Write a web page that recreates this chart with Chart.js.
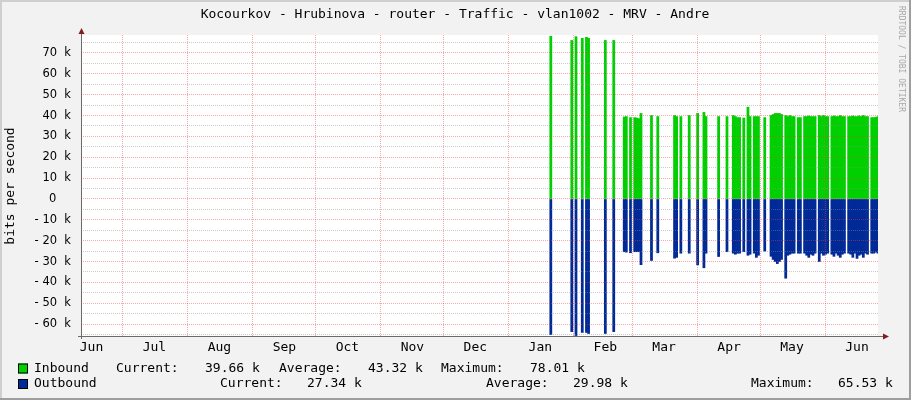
<!DOCTYPE html>
<html>
<head>
<meta charset="utf-8">
<script src="https://cdn.jsdelivr.net/npm/chart.js@4.4.1/dist/chart.umd.min.js"></script>
<style>
html,body{margin:0;padding:0;background:#f2f2f2}
canvas{display:block}
</style>
</head>
<body>
<canvas id="c" width="911" height="400"></canvas>
<script>
// data (days counted from the left edge of the graph, one value per day, in k bits/s)
const title = 'Kocourkov - Hrubinova - router - Traffic - vlan1002 - MRV - Andre'
const yTitle = 'bits per second'
const startDay = 223
const inbound = [
  null, 78, null, null, null, null, null, null, null, null,
  null, 76, null, 77.8, null, null, 77, null, 77.5, 77,
  null, null, null, null, null, null, null, 76, null, null,
  null, 76, null, null, null, null, 39.3, 39.5, null, 39,
  null, 39, 38.8, 38.5, 41, null, null, null, null, 40,
  null, null, 39.5, null, null, null, null, null, null, null,
  40, 39.5, null, 39.5, null, null, null, 40, null, null,
  null, 41, null, null, 41.5, 39.5, null, null, null, null,
  null, 39.5, null, null, null, 39.5, null, null, 40, 39.5,
  39, 39, null, 38.8, null, 44, 39.5, null, 39.5, 39.5,
  39.5, null, null, 39, null, null, 40, 40.5, 41, 41,
  41, 40.5, null, 40, 39.5, 40, 39.5, 39.5, null, 39,
  39, null, 39.5, 39.5, 39.8, 39.5, 39.5, 39.5, null, 40,
  39.5, 40, 39.5, 39.5, null, 39.5, 39.8, 39.5, 39.5, 40,
  39.5, 39.5, null, 39.5, 39.5, 39.8, 39.5, 39.5, 39.8, 39.5,
  40, 39.5, 39.5, null, 39, 39, 39.2, 39.5
]
const outbound = [
  null, -65, null, null, null, null, null, null, null, null,
  null, -63.6, null, -65.5, null, null, -64, null, -64, -64.5,
  null, null, null, null, null, null, null, -64.5, null, null,
  null, -63.6, null, null, null, null, -25.3, -25.5, null, -25.8,
  null, -25.3, -25.3, -25.3, -31.5, null, null, null, null, -29.5,
  null, null, -25.8, null, null, null, null, null, null, null,
  -28.4, -28, null, -26, null, null, null, -26, null, null,
  null, -31.6, null, null, -33, -26, null, null, null, null,
  null, -27.6, null, null, null, -25.3, null, null, -26, -26.5,
  -26, -26, null, -25.3, null, -27, -26.5, null, -26, -28,
  -27, null, null, -25, null, null, -27.5, -29, -30, -31,
  -30, -29, null, -38, -27, -26.5, -26, -26, null, -26,
  -26, null, -26, -27, -28, -26.5, -27, -26, null, -30,
  -26, -27, -26.5, -26, null, -26.5, -27.5, -26, -27, -28,
  -26.5, -26, null, -26, -26.5, -28, -26, -28.5, -27, -26.5,
  -28, -26, -26.5, null, -26, -26, -25.5, -26
]
const monthLabels = ['Jun','Jul','Aug','Sep','Oct','Nov','Dec','Jan','Feb','Mar','Apr','May','Jun']
const monthLabelDays = [5, 35, 66, 97, 127, 158, 188, 219, 250, 278, 309, 339, 370]
const monthStartDays = [20, 51, 82, 112, 143, 173, 204, 235, 263, 294, 324, 355]
const yTickValues = [-65,-60,-55,-50,-45,-40,-35,-30,-25,-20,-15,-10,-5,0,5,10,15,20,25,30,35,40,45,50,55,60,65,70,75]
const legendNames = ['Inbound', 'Outbound']
const legendCurrent = ['39.66 k', '27.34 k']
const legendAverage = ['43.32 k', '29.98 k']
const legendMaximum = ['78.01 k', '65.53 k']

const GREEN = '#00cf00'
const BLUE = '#002a97'
const GRID = 'rgba(143,143,143,0.45)'
const MGRID = 'rgba(235,60,60,0.45)'
const MONO = '"DejaVu Sans Mono"'

function toPoints(arr){
    return arr.map((v, i) => ({x: startDay + i, y: v}))
}

// rrdtool look: frame, title, axes with arrows, legend
const rrdPlugin = {
    id: 'rrd',
    beforeDraw(chart){
        const ctx = chart.ctx
        const a = chart.chartArea
        ctx.save()
        ctx.fillStyle = '#f2f2f2'
        ctx.fillRect(0, 0, 911, 400)
        ctx.fillStyle = '#cfcfcf'
        ctx.fillRect(0, 0, 911, 2)
        ctx.fillRect(0, 0, 2, 400)
        ctx.fillStyle = '#9e9e9e'
        ctx.fillRect(909, 0, 2, 400)
        ctx.fillRect(0, 398, 911, 2)
        ctx.fillStyle = '#ffffff'
        ctx.fillRect(a.left, a.top, a.right - a.left, a.bottom - a.top)
        ctx.restore()
    },
    afterDraw(chart){
        const ctx = chart.ctx
        const a = chart.chartArea
        ctx.save()
        // axes
        ctx.strokeStyle = '#6a6a6a'
        ctx.lineWidth = 1
        ctx.beginPath()
        ctx.moveTo(a.left - 3, a.bottom + 0.5)
        ctx.lineTo(a.right + 6, a.bottom + 0.5)
        ctx.moveTo(a.left + 0.5, a.bottom + 3)
        ctx.lineTo(a.left + 0.5, a.top - 3)
        ctx.stroke()
        ctx.fillStyle = '#7f1f1f'
        ctx.beginPath()
        ctx.moveTo(a.right + 11, a.bottom + 0.5)
        ctx.lineTo(a.right + 5, a.bottom - 2.5)
        ctx.lineTo(a.right + 5, a.bottom + 3.5)
        ctx.fill()
        ctx.beginPath()
        ctx.moveTo(a.left + 0.5, a.top - 7)
        ctx.lineTo(a.left - 2.5, a.top - 1)
        ctx.lineTo(a.left + 3.5, a.top - 1)
        ctx.fill()

        // title
        ctx.fillStyle = '#000'
        ctx.font = '13px ' + MONO
        ctx.textAlign = 'center'
        ctx.textBaseline = 'middle'
        ctx.fillText(title, 455, 15)

        // y title
        ctx.save()
        ctx.translate(11, 186)
        ctx.rotate(-Math.PI / 2)
        ctx.fillText(yTitle, 0, 0)
        ctx.restore()

        // watermark
        ctx.save()
        ctx.translate(901, 6)
        ctx.rotate(Math.PI / 2)
        ctx.font = '8px ' + MONO
        ctx.fillStyle = '#a8a8a8'
        ctx.textAlign = 'left'
        ctx.fillText('RRDTOOL / TOBI OETIKER', 0, 0)
        ctx.restore()

        // legend
        ctx.textAlign = 'left'
        ctx.font = '13px ' + MONO
        const rows = [368.5, 384]
        const cols = [
            [116, 205, 279, 368, 441, 530],
            [220, 307, 486, 573, 751, 838]
        ]
        const colors = [GREEN, BLUE]
        for(let r=0; r<2; r++){
            const y = rows[r]
            ctx.fillStyle = colors[r]
            ctx.fillRect(18, y - 5, 10, 10)
            ctx.strokeStyle = '#000'
            ctx.strokeRect(18.5, y - 4.5, 9, 9)
            ctx.fillStyle = '#000'
            ctx.fillText(legendNames[r], 34, y)
            const c = cols[r]
            ctx.fillText('Current:', c[0], y)
            ctx.fillText(legendCurrent[r], c[1], y)
            ctx.fillText('Average:', c[2], y)
            ctx.fillText(legendAverage[r], c[3], y)
            ctx.fillText('Maximum:', c[4], y)
            ctx.fillText(legendMaximum[r], c[5], y)
        }
        ctx.restore()
    }
}

Chart.defaults.font.family = 'DejaVu Sans'
Chart.defaults.color = '#000'

const chart = new Chart(document.getElementById('c'), {
    type: 'bar',
    data: {
        datasets: [
            {label: 'Inbound', data: toPoints(inbound), backgroundColor: GREEN, borderWidth: 0},
            {label: 'Outbound', data: toPoints(outbound), backgroundColor: BLUE, borderWidth: 0}
        ]
    },
    options: {
        responsive: false,
        animation: false,
        devicePixelRatio: 1,
        grouped: false,
        barPercentage: 1,
        categoryPercentage: 1,
        layout: {padding: {left: 0, right: 33, top: 35, bottom: 0}},
        plugins: {legend: {display: false}, tooltip: {enabled: false}},
        scales: {
            x: {
                type: 'linear',
                min: 0,
                max: 380,
                offset: false,
                afterBuildTicks: s => {
                    s.ticks = monthStartDays.concat(monthLabelDays).sort((p, q) => p - q).map(v => ({value: v}))
                },
                afterFit: s => { s.height = 64 },
                border: {display: false, dash: [1, 1]},
                grid: {
                    offset: false,
                    z: 1,
                    drawTicks: false,
                    color: c => monthStartDays.includes(c.tick.value) ? MGRID : 'rgba(0,0,0,0)'
                },
                ticks: {
                    autoSkip: false,
                    maxRotation: 0,
                    minRotation: 0,
                    padding: 4,
                    font: {family: MONO, size: 13},
                    callback: v => {
                        const i = monthLabelDays.indexOf(v)
                        return i >= 0 ? monthLabels[i] : ''
                    }
                }
            },
            y: {
                min: -65.7,
                max: 78.6,
                afterBuildTicks: s => { s.ticks = yTickValues.map(v => ({value: v})) },
                afterFit: s => { s.width = 81 },
                border: {display: false, dash: [1, 1]},
                grid: {
                    z: 1,
                    drawTicks: false,
                    color: c => (c.tick.value % 10 === 0) ? MGRID : GRID
                },
                ticks: {
                    autoSkip: false,
                    padding: 10,
                    font: {size: 11.5},
                    callback: v => {
                        if(v % 10 !== 0) return ''
                        if(v === 0) return '0    '
                        if(v < 0) return '- ' + (-v) + '  k'
                        return v + '  k'
                    }
                }
            }
        }
    },
    plugins: [rrdPlugin]
})
</script>
</body>
</html>
